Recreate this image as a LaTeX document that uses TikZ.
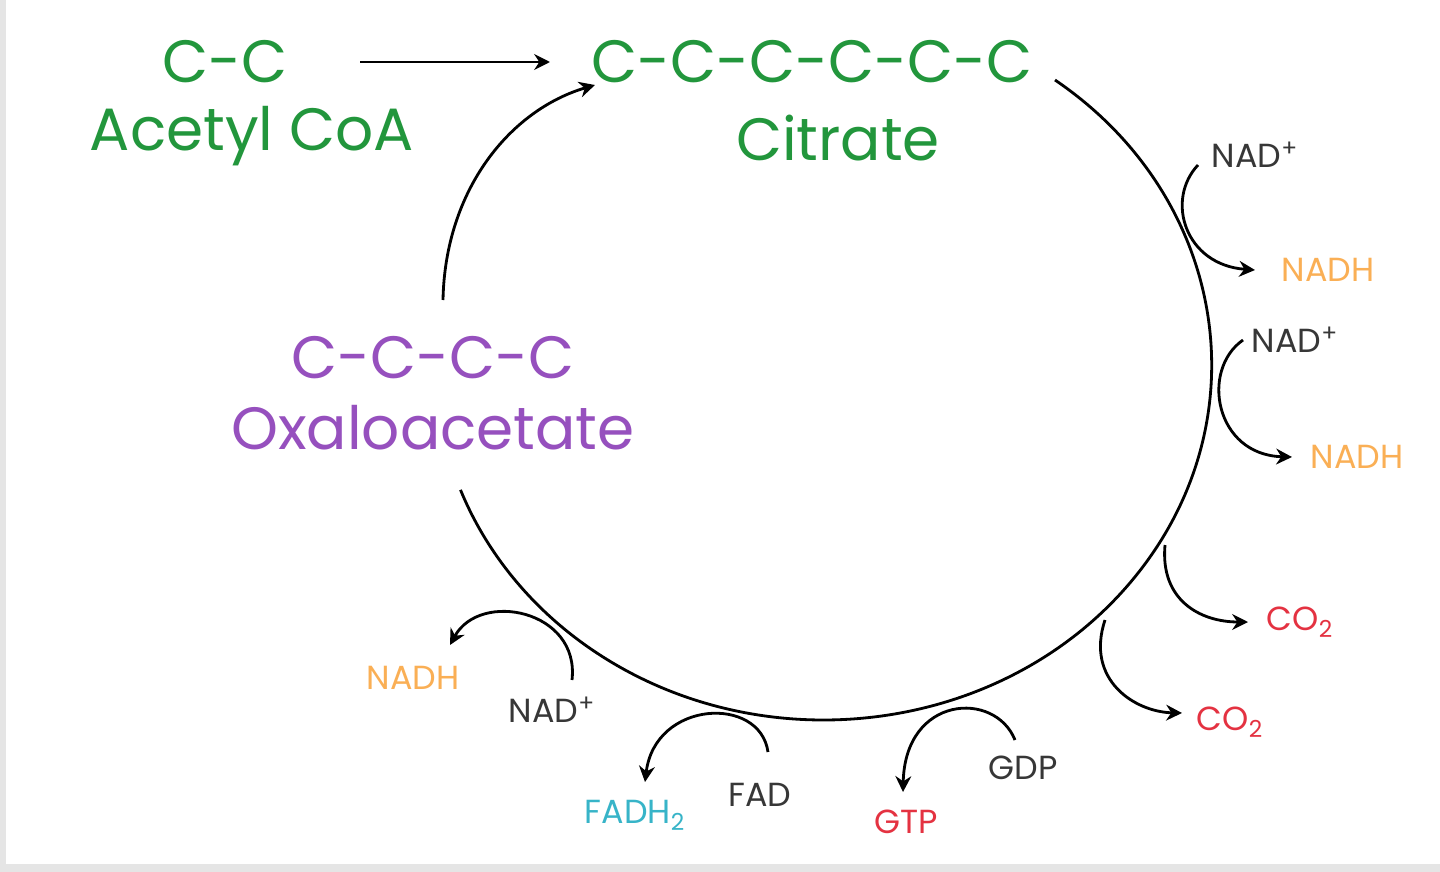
\documentclass[tikz,border=0pt]{standalone}
\usepackage{fontspec}
\setmainfont{Poppins}
\usetikzlibrary{arrows.meta}
\definecolor{kgreen}{RGB}{34,150,60}
\definecolor{kpurple}{RGB}{150,80,190}
\definecolor{korange}{RGB}{250,175,85}
\definecolor{kred}{RGB}{228,50,65}
\definecolor{kcyan}{RGB}{55,180,200}
\definecolor{kgray}{RGB}{55,55,55}
\tikzset{big/.style={font=\fontsize{34}{40}\selectfont},
 small/.style={font=\fontsize{19}{22}\selectfont},
 arr/.style={line width=1.6pt,-{Stealth[length=9pt,width=9pt]}},
 ln/.style={line width=1.6pt}}
\begin{document}
\begin{tikzpicture}[x=0.02cm,y=-0.02cm]
\fill[gray!20] (0,0) rectangle (1440,872);
\fill[white] (6,0) rectangle (1440,864);
\useasboundingbox (0,0) rectangle (1440,872);
\node[big,kgreen] (cc) at (225,62) {C-C};
\node[big,kgreen] (acoa) at (252,136) {Acetyl CoA};
\node[big,kgreen] (cit) at (812,62) {C-C-C-C-C-C};
\node[big,kgreen] (citn) at (838,138) {Citrate};
\node[big,kpurple] (oaa) at (433,358) {C-C-C-C};
\node[big,kpurple] (oaan) at (433,428) {Oxaloacetate};
\coordinate (a1) at (360,62); \coordinate (a2) at (550,62);
\draw[arr] (a1) -- (a2);
\coordinate (o1) at (443,300); \coordinate (o2) at (595,85);
\draw[arr] (o1) .. controls (445,190) and (510,110) .. (o2);
\coordinate (cs) at (1055,80);
\draw[ln] (cs) arc[start angle=-53.4,end angle=159.4,x radius=388,y radius=355];
% branches
\node[small,kgray] (n1) at (1255,155) {NAD\textsuperscript{+}};
\node[small,korange] (h1) at (1328,270) {NADH};
\draw[arr] (1198,165) .. controls (1165,200) and (1185,265) .. (1255,270);
\node[small,kgray] (n2) at (1295,340) {NAD\textsuperscript{+}};
\node[small,korange] (h2) at (1357,457) {NADH};
\draw[arr] (1243,340) .. controls (1200,370) and (1215,455) .. (1292,457);
\node[small,kred] (c1) at (1300,622) {CO\textsubscript{2}};
\draw[arr] (1165,545) .. controls (1160,600) and (1200,622) .. (1248,622);
\node[small,kred] (c2) at (1230,722) {CO\textsubscript{2}};
\draw[arr] (1105,620) .. controls (1085,680) and (1135,712) .. (1182,713);
\node[small,kgray] (gdp) at (1023,768) {GDP};
\node[small,kred] (gtp) at (906,822) {GTP};
\draw[arr] (1015,740) .. controls (995,690) and (905,695) .. (903,792);
\node[small,kgray] (fad) at (760,795) {FAD};
\node[small,kcyan] (fadh) at (635,815) {FADH\textsubscript{2}};
\draw[arr] (768,752) .. controls (760,695) and (655,700) .. (645,782);
\node[small,kgray] (n3) at (552,710) {NAD\textsuperscript{+}};
\node[small,korange] (h3) at (413,678) {NADH};
\draw[arr] (572,680) .. controls (580,610) and (480,590) .. (450,645);
\end{tikzpicture}
\end{document}
